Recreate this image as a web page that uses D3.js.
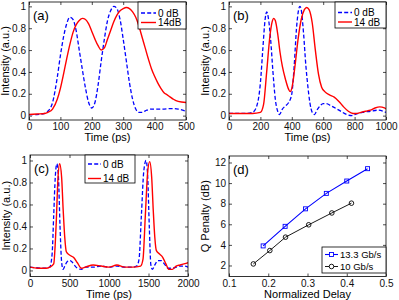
<!DOCTYPE html>
<html>
<head>
<meta charset="utf-8">
<script src="https://cdn.jsdelivr.net/npm/d3@7"></script>
<style>
  body { margin: 0; background: #fff; }
  svg { display: block; font-family: "Liberation Sans", Arial, sans-serif; }
</style>
</head>
<body>
<div id="chart"></div>
<script>
// panel (a): time (ps), intensity (a.u.)
const a0dB = [[0,0.01],[25,0.01],[50,0.02],[60,0.04],[75,0.12],[90,0.35],[100,0.55],[110,0.72],[120,0.84],[130,0.9],[140,0.88],[150,0.78],[160,0.6],[170,0.42],[180,0.25],[190,0.12],[200,0.07],[210,0.12],[220,0.28],[230,0.5],[240,0.7],[250,0.87],[260,0.96],[270,1.0],[280,0.98],[290,0.88],[300,0.7],[310,0.5],[320,0.3],[330,0.15],[340,0.06],[350,0.03],[360,0.03],[375,0.05],[390,0.06],[400,0.06],[425,0.06],[450,0.065],[475,0.06],[500,0.04]];
const a14dB = [[0,0.01],[25,0.015],[50,0.02],[60,0.03],[75,0.06],[90,0.15],[100,0.25],[110,0.38],[120,0.52],[130,0.65],[140,0.76],[150,0.83],[160,0.87],[170,0.89],[180,0.88],[190,0.84],[200,0.77],[210,0.7],[220,0.64],[230,0.6],[240,0.62],[250,0.7],[260,0.78],[270,0.86],[280,0.92],[290,0.96],[300,0.98],[310,0.99],[320,0.98],[330,0.95],[340,0.9],[350,0.82],[360,0.72],[370,0.62],[380,0.52],[390,0.43],[400,0.36],[410,0.3],[420,0.25],[430,0.21],[440,0.19],[450,0.17],[460,0.15],[475,0.13],[500,0.12]];

// panel (b)
const b0dB = [[0,0.02],[100,0.02],[150,0.03],[175,0.08],[200,0.3],[215,0.6],[230,0.88],[240,0.95],[250,0.9],[265,0.7],[280,0.4],[295,0.15],[310,0.04],[322,0.01],[340,0.06],[360,0.09],[380,0.12],[400,0.2],[415,0.45],[430,0.8],[445,0.98],[452,1.0],[460,0.97],[475,0.75],[490,0.45],[500,0.3],[515,0.12],[530,0.03],[545,0.01],[560,0.05],[580,0.09],[600,0.11],[620,0.11],[650,0.09],[700,0.05],[750,0.01],[780,0.0],[800,0.01],[850,0.03],[900,0.04],[950,0.05],[1000,0.03]];
const b14dB = [[0,0.02],[100,0.02],[150,0.02],[200,0.03],[220,0.1],[240,0.4],[260,0.72],[275,0.86],[285,0.89],[295,0.87],[310,0.75],[325,0.58],[340,0.45],[360,0.33],[380,0.24],[390,0.22],[400,0.25],[420,0.45],[440,0.7],[460,0.88],[480,0.97],[495,0.99],[510,0.97],[530,0.85],[550,0.6],[570,0.38],[590,0.26],[610,0.22],[640,0.19],[670,0.17],[700,0.13],[730,0.08],[760,0.04],[790,0.02],[810,0.02],[840,0.03],[870,0.04],[900,0.05],[930,0.07],[960,0.08],[990,0.07],[1000,0.06]];

// panel (c)
const c0dB = [[0,0.03],[200,0.02],[250,0.03],[280,0.15],[300,0.5],[320,0.85],[340,0.97],[360,0.85],[380,0.4],[400,0.08],[418,0.01],[440,0.04],[470,0.08],[500,0.09],[530,0.08],[560,0.05],[600,0.02],[650,0.01],[700,0.03],[800,0.03],[900,0.04],[1000,0.03],[1100,0.04],[1200,0.03],[1300,0.03],[1350,0.04],[1380,0.1],[1410,0.5],[1440,0.9],[1470,1.0],[1490,0.85],[1510,0.4],[1530,0.05],[1550,0.01],[1580,0.05],[1620,0.09],[1660,0.09],[1700,0.06],[1750,0.02],[1800,0.02],[1850,0.03],[1900,0.04],[1950,0.04],[2000,0.03]];
const c14dB = [[0,0.03],[100,0.02],[200,0.02],[250,0.03],[300,0.06],[330,0.4],[355,0.85],[375,0.97],[400,0.85],[420,0.55],[440,0.3],[460,0.17],[500,0.14],[550,0.12],[600,0.07],[650,0.02],[700,0.03],[800,0.05],[900,0.04],[1000,0.03],[1100,0.05],[1200,0.03],[1300,0.03],[1400,0.04],[1430,0.1],[1460,0.5],[1490,0.9],[1515,0.99],[1540,0.85],[1560,0.55],[1580,0.3],[1600,0.18],[1640,0.15],[1680,0.12],[1720,0.06],[1760,0.01],[1800,0.01],[1850,0.04],[1900,0.05],[1950,0.06],[2000,0.07]];

// panel (d): normalized delay vs Q penalty (dB)
const d133Delay = [0.187, 0.243, 0.295, 0.348, 0.4, 0.453];
const d133Penalty = [3.9, 5.8, 7.5, 9.0, 10.2, 11.4];
const d10Delay = [0.162, 0.204, 0.244, 0.303, 0.362, 0.412];
const d10Penalty = [2.15, 3.45, 4.75, 5.95, 7.1, 8.05];

const intensityTicks = [0, 0.2, 0.4, 0.6, 0.8, 1];
const fmtFrac = d => (d === 0 || d === 1) ? String(d) : d.toFixed(1);

const svg = d3.select("#chart").append("svg")
  .attr("width", 399)
  .attr("height", 300);

function drawPanel(p) {
  const x = d3.scaleLinear().domain(p.xDomain).range([p.left, p.right]);
  const y = d3.scaleLinear().domain(p.yDomain).range([p.bottom, p.top]);
  const g = svg.append("g");
  const clipId = "clip-" + p.tag.replace(/\W/g, "");

  g.append("clipPath").attr("id", clipId)
    .append("rect")
    .attr("x", p.left).attr("y", p.top)
    .attr("width", p.right - p.left).attr("height", p.bottom - p.top);

  // ticks (inward, all four sides)
  g.append("g")
    .attr("transform", `translate(0,${p.bottom})`)
    .call(d3.axisBottom(x).tickValues(p.xTicks).tickFormat(p.xFmt)
      .tickSizeInner(-3).tickSizeOuter(0).tickPadding(3));
  g.append("g")
    .attr("transform", `translate(0,${p.top})`)
    .call(d3.axisTop(x).tickValues(p.xTicks).tickFormat("")
      .tickSizeInner(-3).tickSizeOuter(0));
  g.append("g")
    .attr("transform", `translate(${p.left},0)`)
    .call(d3.axisLeft(y).tickValues(p.yTicks).tickFormat(p.yFmt)
      .tickSizeInner(-3).tickSizeOuter(0).tickPadding(3));
  g.append("g")
    .attr("transform", `translate(${p.right},0)`)
    .call(d3.axisRight(y).tickValues(p.yTicks).tickFormat("")
      .tickSizeInner(-3).tickSizeOuter(0));
  g.selectAll(".domain").remove();
  g.selectAll(".tick line").attr("stroke", "#000").attr("stroke-width", 0.7);
  g.selectAll(".tick text")
    .attr("font-family", "Liberation Sans, Arial, sans-serif")
    .attr("font-size", 10).attr("fill", "#111");

  // series
  p.series.forEach(s => {
    const line = d3.line()
      .x(d => x(d[0]))
      .y(d => y(d[1]))
      .curve(s.marker ? d3.curveLinear : d3.curveMonotoneX);
    g.append("path")
      .datum(s.data)
      .attr("clip-path", `url(#${clipId})`)
      .attr("fill", "none")
      .attr("stroke", s.color)
      .attr("stroke-width", s.width)
      .attr("stroke-dasharray", s.dash || null)
      .attr("d", line);
    if (s.marker === "square") {
      g.selectAll(null).data(s.data).enter().append("rect")
        .attr("x", d => x(d[0]) - 2).attr("y", d => y(d[1]) - 2)
        .attr("width", 4).attr("height", 4)
        .attr("fill", "none").attr("stroke", s.color).attr("stroke-width", 0.9);
    } else if (s.marker === "circle") {
      g.selectAll(null).data(s.data).enter().append("circle")
        .attr("cx", d => x(d[0])).attr("cy", d => y(d[1])).attr("r", 2.3)
        .attr("fill", "none").attr("stroke", s.color).attr("stroke-width", 0.9);
    }
  });

  // box
  g.append("rect")
    .attr("x", p.left).attr("y", p.top)
    .attr("width", p.right - p.left).attr("height", p.bottom - p.top)
    .attr("fill", "none").attr("stroke", "#000").attr("stroke-width", 0.8);

  // axis labels
  g.append("text")
    .attr("x", (p.left + p.right) / 2)
    .attr("y", p.bottom + 21)
    .attr("text-anchor", "middle")
    .style("font-size", "11px")
    .text(p.xLabel);
  g.append("text")
    .attr("transform", `translate(${p.left - 20},${(p.top + p.bottom) / 2}) rotate(-90)`)
    .attr("text-anchor", "middle")
    .style("font-size", "11px")
    .text(p.yLabel);

  // panel tag
  g.append("text")
    .attr("x", p.left + 4)
    .attr("y", p.top + 18)
    .style("font-size", "13px")
    .text(p.tag);

  // legend
  const L = p.legend;
  const lg = g.append("g");
  lg.append("rect")
    .attr("x", L.x).attr("y", L.y).attr("width", L.w).attr("height", L.h)
    .attr("fill", "#fff").attr("stroke", "#000").attr("stroke-width", 0.8);
  p.series.forEach((s, i) => {
    const cy = L.y + L.row0 + i * L.rowGap;
    lg.append("line")
      .attr("x1", L.x + 3).attr("x2", L.x + L.sample)
      .attr("y1", cy).attr("y2", cy)
      .attr("stroke", s.color).attr("stroke-width", s.width)
      .attr("stroke-dasharray", s.dash || null);
    const mx = L.x + 3 + (L.sample - 3) / 2;
    if (s.marker === "square") {
      lg.append("rect").attr("x", mx - 2).attr("y", cy - 2).attr("width", 4).attr("height", 4)
        .attr("fill", "#fff").attr("stroke", s.color).attr("stroke-width", 0.9);
    } else if (s.marker === "circle") {
      lg.append("circle").attr("cx", mx).attr("cy", cy).attr("r", 2.3)
        .attr("fill", "#fff").attr("stroke", s.color).attr("stroke-width", 0.9);
    }
    lg.append("text")
      .attr("x", L.x + L.sample + 2)
      .attr("y", cy + 3.5)
      .style("font-size", L.font + "px")
      .text(s.name);
  });
}

const dashBlue = "4,2.2";

drawPanel({
  tag: "(a)", left: 29, right: 186, top: 2, bottom: 120,
  xDomain: [0, 500], yDomain: [-0.04, 1.04],
  xTicks: [0, 100, 200, 300, 400, 500], yTicks: intensityTicks,
  xFmt: d3.format("d"), yFmt: fmtFrac,
  xLabel: "Time (ps)", yLabel: "Intensity (a.u.)",
  series: [
    { name: "0 dB", data: a0dB, color: "#0000ff", width: 1.3, dash: dashBlue },
    { name: "14dB", data: a14dB, color: "#ff0000", width: 1.4 }
  ],
  legend: { x: 138, y: 2, w: 48, h: 27, row0: 11, rowGap: 9.5, sample: 18, font: 10 }
});

drawPanel({
  tag: "(b)", left: 229, right: 386, top: 2, bottom: 120,
  xDomain: [0, 1000], yDomain: [-0.04, 1.04],
  xTicks: [0, 200, 400, 600, 800, 1000], yTicks: intensityTicks,
  xFmt: d3.format("d"), yFmt: fmtFrac,
  xLabel: "Time (ps)", yLabel: "Intensity (a.u.)",
  series: [
    { name: "0 dB", data: b0dB, color: "#0000ff", width: 1.3, dash: dashBlue },
    { name: "14 dB", data: b14dB, color: "#ff0000", width: 1.4 }
  ],
  legend: { x: 335, y: 2, w: 51, h: 26, row0: 10.5, rowGap: 9.5, sample: 17, font: 10 }
});

drawPanel({
  tag: "(c)", left: 30, right: 188, top: 155, bottom: 276.5,
  xDomain: [0, 2000], yDomain: [-0.055, 1.05],
  xTicks: [0, 500, 1000, 1500, 2000], yTicks: intensityTicks,
  xFmt: d3.format("d"), yFmt: fmtFrac,
  xLabel: "Time (ps)", yLabel: "Intensity (a.u.)",
  series: [
    { name: "0 dB", data: c0dB, color: "#0000ff", width: 1.3, dash: dashBlue },
    { name: "14 dB", data: c14dB, color: "#ff0000", width: 1.4 }
  ],
  legend: { x: 85, y: 155, w: 50, h: 28, row0: 9, rowGap: 14.5, sample: 16, font: 10 }
});

drawPanel({
  tag: "(d)", left: 229, right: 386, top: 156, bottom: 276.5,
  xDomain: [0.1, 0.5], yDomain: [0.93, 12.63],
  xTicks: [0.1, 0.2, 0.3, 0.4, 0.5], yTicks: [2, 4, 6, 8, 10, 12],
  xFmt: d => d.toFixed(1), yFmt: d3.format("d"),
  xLabel: "Normalized Delay", yLabel: "Q Penalty (dB)",
  series: [
    { name: "13.3 Gb/s", data: d3.zip(d133Delay, d133Penalty), color: "#0000ff", width: 1.1, marker: "square" },
    { name: "10 Gb/s", data: d3.zip(d10Delay, d10Penalty), color: "#000000", width: 0.9, marker: "circle" }
  ],
  legend: { x: 322, y: 247, w: 64, h: 26, row0: 7.5, rowGap: 12, sample: 16, font: 9.5 }
});
</script>
</body>
</html>
